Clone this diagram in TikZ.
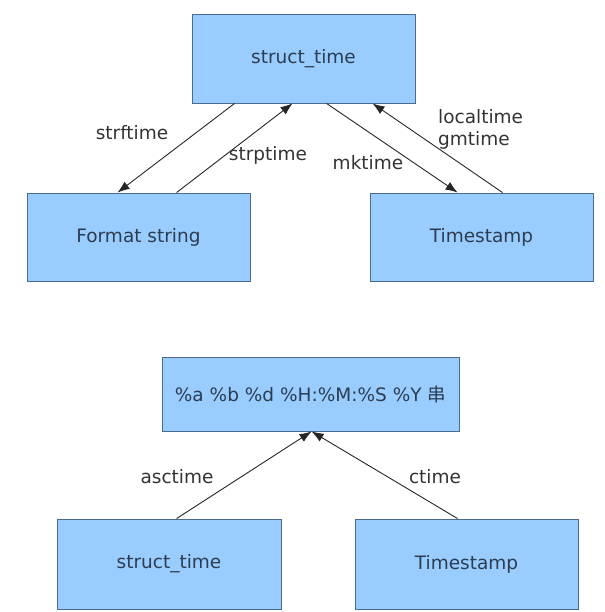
\documentclass[tikz,border=0pt]{standalone}
\usepackage{fontspec}
\setmainfont{DejaVu Sans}
\newfontfamily\cjk{Noto Sans CJK SC}
\usetikzlibrary{arrows.meta}
\definecolor{boxfill}{HTML}{99CCFF}
\definecolor{boxline}{HTML}{4A6A8E}
\definecolor{boxtext}{HTML}{2C3D52}
\definecolor{lbltext}{HTML}{333333}

\begin{document}
\begin{tikzpicture}[x=1pt, y=-1pt,
			% Define the styles for boxes, labels and arrows
			box/.style={rectangle, draw=boxline, fill=boxfill, line width=0.9pt,
				minimum width=223pt, minimum height=88pt, inner sep=0pt,
				text=boxtext, font=\fontsize{18.5}{22}\selectfont},
			lbl/.style={text=lbltext, inner sep=0pt, font=\fontsize{18.5}{22}\selectfont},
			conv/.style={draw=black!85, line width=0.9pt, -{Latex[length=12pt,width=9pt]}}
			]

			\useasboundingbox (0,0) rectangle (604,612);

			% upper picture
			\node (st) at (303.5, 58.5) [box, minimum height=89pt] {struct\_time};
			\node (fs) at (138.5, 237) [box] {Format string};
			\node (ts) at (481.5, 237) [box] {Timestamp};

			\draw[conv] ([xshift=43pt]st.south west)--([xshift=91pt]fs.north west);
			\draw[conv] ([xshift=150pt]fs.north west)--([xshift=101pt]st.south west);
			\draw[conv] ([xshift=135pt]st.south west)--([xshift=88pt]ts.north west);
			\draw[conv] ([xshift=133pt]ts.north west)--([xshift=181pt]st.south west);

			\node (l1) at (132, 133) [lbl] {strftime};
			\node (l2) at (268, 155) [lbl] {strptime};
			\node (l3) at (368, 163) [lbl] {mktime};
			\node (l4) at (438, 129) [lbl, anchor=west, align=left] {localtime\\gmtime};

			% lower picture
			\node (fmt) at (310.5, 394) [box, minimum width=297pt, minimum height=74pt]
				{\%a \%b \%d \%H:\%M:\%S \%Y {\cjk 串}};
			\node (bs) at (169, 564) [box, minimum width=224pt, minimum height=90pt] {struct\_time};
			\node (bt) at (466.5, 564) [box, minimum height=90pt] {Timestamp};

			\draw[conv] ([xshift=120pt]bs.north west)--([xshift=150pt]fmt.south west);
			\draw[conv] ([xshift=103pt]bt.north west)--([xshift=150pt]fmt.south west);

			\node (l5) at (177, 477) [lbl] {asctime};
			\node (l6) at (435, 477) [lbl] {ctime};

		\end{tikzpicture}
\end{document}
